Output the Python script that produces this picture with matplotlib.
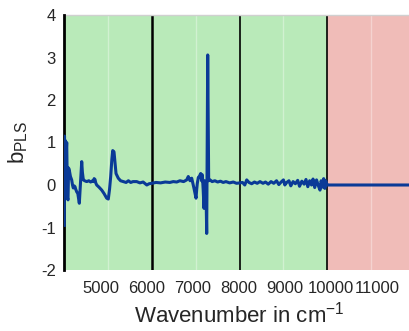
import matplotlib.pyplot as plt

plt.rcParams['font.family'] = ['Liberation Sans', 'DejaVu Sans']
plt.rcParams['mathtext.fontset'] = 'custom'
plt.rcParams['mathtext.rm'] = 'Liberation Sans'
plt.rcParams['mathtext.it'] = 'Liberation Sans'
plt.rcParams['axes.unicode_minus'] = False

# Regression vector
wavenumber = [4206, 4211, 4218, 4225, 4240, 4259, 4275, 4287, 4300, 4315, 4340,
              4367, 4385, 4402, 4420, 4439, 4455, 4476, 4500, 4533, 4560, 4585,
              4600, 4620, 4650, 4693, 4740, 4780, 4820, 4837, 4855, 4874, 4890,
              4911, 4960, 5020, 5070, 5128, 5163, 5190, 5215, 5240, 5259, 5287,
              5310, 5331, 5380, 5430, 5489, 5550, 5600, 5650, 5700, 5780, 5850,
              5920, 6000, 6050, 6107, 6200, 6300, 6400, 6500, 6576, 6650, 6720,
              6800, 6867, 6902, 6940, 6976, 7000, 7026, 7050, 7070, 7085, 7098,
              7120, 7141, 7172, 7190, 7207, 7225, 7244, 7255, 7265, 7285, 7302,
              7324, 7345, 7374, 7420, 7480, 7540, 7600, 7660, 7720, 7800, 7880,
              7950, 8026, 8080, 8130, 8172, 8220, 8280, 8340, 8400, 8460, 8526,
              8580, 8640, 8700, 8760, 8820, 8870, 8920, 8970, 9000, 9041, 9090,
              9130, 9180, 9230, 9280, 9320, 9370, 9420, 9460, 9500, 9540, 9580,
              9613, 9650, 9690, 9730, 9765, 9790, 9820, 9845, 9870, 9890, 9910,
              9922, 11830]
b_pls = [-0.95, 1.15, 0.2, 1.05, 0.6, 1.0, -0.3, -0.35, 0.4, 0.35, 0.2,
         0.12, 0.0, -0.07, -0.02, -0.04, -0.1, -0.16, -0.2, -0.43, 0.1, 0.55,
         0.3, 0.12, 0.1, 0.08, 0.1, 0.07, 0.1, 0.08, 0.15, 0.13, 0.05,
         0.0, -0.05, -0.12, -0.2, -0.31, -0.33, -0.1, 0.2, 0.6, 0.81, 0.78,
         0.5, 0.27, 0.16, 0.1, 0.08, 0.06, 0.1, 0.06, 0.08, 0.08, 0.05,
         0.07, 0.0, 0.03, 0.04, 0.06, 0.05, 0.07, 0.06, 0.08, 0.07, 0.1,
         0.08, 0.12, 0.2, 0.1, 0.16, 0.05, -0.08, -0.2, -0.31, -0.1, 0.04,
         0.18, 0.2, 0.27, 0.1, 0.24, -0.1, -0.55, 0.1, 0.04, 0.0, -1.14,
         3.06, 0.1, 0.12, 0.08, 0.1, 0.07, 0.09, 0.06, 0.08, 0.05, 0.07,
         0.04, 0.05, 0.06, 0.0, 0.12, 0.06, 0.03, 0.07, 0.04, 0.08, 0.04,
         0.07, 0.02, 0.08, 0.04, 0.1, 0.01, 0.07, 0.12, 0.0, 0.06, 0.1,
         -0.02, 0.08, 0.03, 0.11, -0.03, 0.09, 0.02, 0.13, -0.04, 0.1, 0.0,
         0.14, -0.06, 0.12, -0.02, -0.12, 0.1, -0.05, 0.15, -0.08, 0.1, 0.02,
         0.0, 0.0]

# Intervals (green = used, red = excluded)
region_edges = [4200, 6107, 8015, 9922, 11830]
region_used = [True, True, True, False]

xticks = [5000, 6000, 7000, 8000, 9000, 10000, 11000]
yticks = [-2, -1, 0, 1, 2, 3, 4]

fig = plt.figure(figsize=(4.09, 3.31), dpi=100)
ax = fig.add_axes([64 / 409, 61 / 331, 351 / 409, 255 / 331])

for i in range(len(region_used)):
    lo, hi = region_edges[i], region_edges[i + 1]
    col = '#b9eab9' if region_used[i] else '#f0bcb8'
    ax.axvspan(lo, hi, color=col, lw=0, zorder=0)
    ax.axvline((lo + hi) / 2, color='white', lw=1, alpha=0.35, zorder=1)
for i, e in enumerate(region_edges[1:-1]):
    ax.axvline(e, color='black', lw=1.8 if i == 0 else 1.2, zorder=2)

ax.plot(wavenumber, b_pls, color='#0a3a97', lw=2.2, zorder=5)

ax.set_xlim(region_edges[0], region_edges[-1])
ax.set_ylim(-2, 4)
ax.set_xticks(xticks)
ax.set_yticks(yticks)
ax.tick_params(length=0, labelsize=12, colors='#262626')
ax.tick_params(axis='x', pad=8)
ax.tick_params(axis='y', pad=6)

ax.spines['right'].set_visible(False)
ax.spines['bottom'].set_visible(False)
ax.spines['top'].set_color('#d0d0d0')
ax.spines['top'].set_linewidth(1)
ax.spines['left'].set_color('black')
ax.spines['left'].set_linewidth(2)
ax.spines['left'].set_zorder(4)

ax.set_xlabel(r'Wavenumber in cm$^{-1}$', fontsize=16, color='#262626', labelpad=4)
ax.set_ylabel(r'b$_{\mathrm{PLS}}$', fontsize=16, color='#262626', labelpad=8)

fig.savefig('out.png', dpi=100)
